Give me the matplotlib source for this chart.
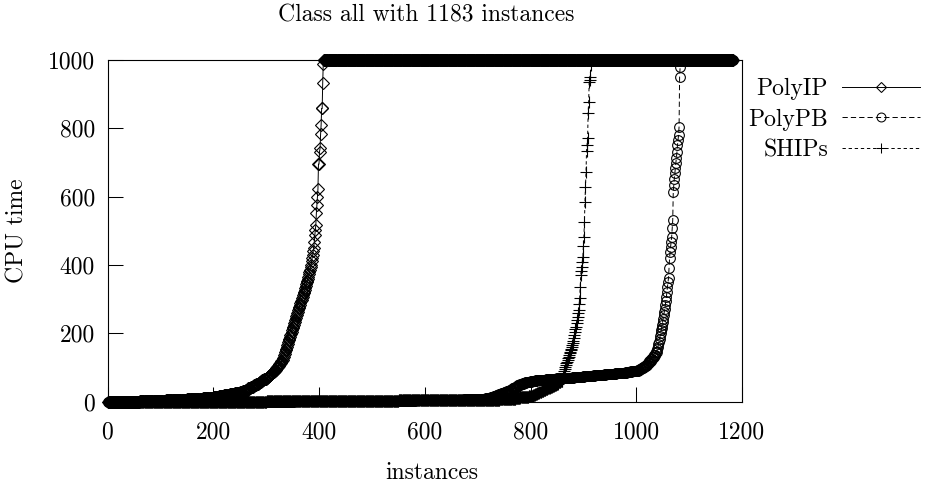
import numpy as np
import matplotlib
matplotlib.use("Agg")
import matplotlib.pyplot as plt
from matplotlib.lines import Line2D

N_INSTANCES = 1183
TIME_LIMIT = 1000

# Sorted CPU times per solver. The dense, slowly rising parts are stored as
# (time level, number of instances at that level); the steep parts list one
# time per instance. Instances that were not solved sit at the time limit.
polyip_levels = [0, 1, 2, 3, 4, 5, 6, 7, 8, 9, 11, 13, 15, 18, 21, 25,
                 29, 32, 35, 39, 42, 45, 47, 50, 52, 55, 57, 60, 62, 65, 67,
                 70, 72, 75, 77, 80, 83, 86, 89, 93, 97, 101, 105, 109, 113, 118]
polyip_counts = [60, 30, 20, 15, 15, 10, 10, 10, 10, 10, 10, 10, 10, 10, 10, 10,
                 5, 5, 5, 5, 5, 2, 3, 2, 3, 2, 3, 2, 3, 2, 3,
                 2, 2, 2, 2, 2, 2, 2, 2, 2, 2, 2, 2, 2, 2, 2]
polyip_steep = [122, 126, 131, 135, 140, 145, 150, 155, 160, 164, 169, 174, 179,
                184, 189, 194, 199, 204, 209, 214, 219, 224, 229, 234, 239, 244,
                249, 254, 258, 263, 268, 273, 278, 283, 288, 293, 298, 302, 307,
                312, 317, 322, 327, 332, 338, 343, 349, 354, 360, 365, 372, 379,
                386, 393, 400, 410, 420, 430, 440, 449, 468, 488, 502, 517, 551,
                575, 600, 622, 695, 695, 732, 741, 782, 810, 858, 858, 932, 987]

polypb_levels = [0, 1, 2, 3, 4, 5, 6, 7,
                 8, 9, 11, 13, 15, 18, 21, 24, 27, 31, 35, 39, 43, 47, 51, 54, 56, 58,
                 60, 62, 63, 65, 66, 68, 69, 70, 72, 73, 74, 76, 77, 78, 80, 81, 83,
                 84, 86, 88,
                 90, 92, 94, 97, 100, 104, 108, 113, 118, 124, 130, 137, 145]
polypb_counts = [350, 150, 80, 40, 30, 25, 20, 15,
                 5, 5, 5, 5, 5, 5, 5, 5, 5, 5, 5, 5, 5, 5, 5, 5, 5, 5,
                 10, 10, 10, 10, 10, 10, 10, 10, 10, 10, 10, 10, 10, 10, 10, 10, 10,
                 10, 10, 10,
                 3, 3, 3, 3, 3, 3, 3, 3, 3, 3, 3, 3, 3]
polypb_steep = [153, 160, 167, 175, 183, 192, 200, 208, 216, 225, 234, 243, 252,
                262, 272, 283, 294, 306, 320, 335, 350, 361, 392, 420, 439, 453,
                468, 483, 507, 531, 614, 634, 653, 668, 683, 697, 712, 731, 751,
                766, 780, 805, 951, 980]

ships_levels = [0, 1, 2, 3, 4, 5, 6, 7, 8, 10, 12, 14, 17,
                20, 22, 24, 27, 30, 33, 36, 39, 43, 46, 49, 52, 56, 60]
ships_counts = [300, 150, 100, 80, 60, 51, 10, 10, 10, 9, 8, 8, 8,
                4, 4, 4, 4, 4, 4, 4, 4, 4, 4, 4, 4, 4, 4]
ships_steep = [68, 75, 82, 88, 95, 102, 107, 112, 117, 122, 127, 131, 136, 141,
               146, 151, 155, 160, 165, 170, 178, 185, 195, 204, 212, 219, 229,
               239, 248, 258, 268, 285, 302, 336, 370, 383, 395, 409, 424, 454,
               483, 527, 585, 629, 673, 734, 751, 771, 844, 878, 935, 941, 951, 985]

x_ticks = [0, 200, 400, 600, 800, 1000, 1200]
y_ticks = [0, 200, 400, 600, 800, 1000]


def sorted_times(levels, counts, steep):
    solved = np.concatenate([np.repeat(levels, counts), steep])
    unsolved = np.full(N_INSTANCES - len(solved), TIME_LIMIT)
    return np.concatenate([solved, unsolved])


plt.rcParams.update({
    "font.family": "cmr10",
    "axes.formatter.use_mathtext": True,
    "font.size": 17,
    "lines.scale_dashes": False,
    "axes.linewidth": 0.8,
})

fig = plt.figure(figsize=(9.27, 4.87), dpi=100)
ax = fig.add_axes([107.5 / 927, 1 - 401.5 / 487, (742 - 107.5) / 927, (401.5 - 60) / 487])

ranks = np.arange(1, N_INSTANCES + 1)
series = [
    ("PolyIP", sorted_times(polyip_levels, polyip_counts, polyip_steep), "D", 5.9, "-"),
    ("PolyPB", sorted_times(polypb_levels, polypb_counts, polypb_steep), "o", 7.0, (0, (3.8, 2.2))),
    ("SHIPs", sorted_times(ships_levels, ships_counts, ships_steep), "+", 8.0, (0, (2.4, 2.0))),
]

handles = []
for name, times, marker, ms, ls in series:
    ax.plot(ranks, times, color="black", lw=0.7, ls=ls, marker=marker, ms=ms,
            mfc="none", mec="black", mew=0.8, clip_on=False)
    handles.append(Line2D([], [], color="black", lw=0.7, ls=ls, marker=marker, ms=ms - 0.6,
                          mfc="none", mec="black", mew=0.75, label=name))

ax.set_xlim(0, 1200)
ax.set_ylim(0, 1000)
ax.set_xticks(x_ticks)
ax.set_yticks(y_ticks)
ax.set_xticklabels([str(v) for v in x_ticks])
ax.set_yticklabels([str(v) for v in y_ticks])
ax.tick_params(direction="in", length=11, width=0.75, top=False, right=False)
ax.tick_params(axis="x", pad=14)
ax.tick_params(axis="y", pad=9)

ax.set_xlabel("instances")
ax.xaxis.set_label_coords((432 - 107.5) / (742 - 107.5), -(462 - 401.5) / (401.5 - 60))
ax.set_ylabel("CPU time")
ax.yaxis.set_label_coords(-(107.5 - 29) / (742 - 107.5), 0.5)

fig.text(426 / 927, 1 - 15 / 487, "Class all with 1183 instances",
         ha="center", va="center")

fig.legend(handles=handles, loc="upper right", bbox_to_anchor=(920 / 927, 1 - 78 / 487),
           bbox_transform=fig.transFigure, frameon=False, markerfirst=False,
           handlelength=3.3, handletextpad=0.6, labelspacing=0.36, borderpad=0,
           borderaxespad=0, numpoints=1)

fig.savefig("out.png", dpi=100)
